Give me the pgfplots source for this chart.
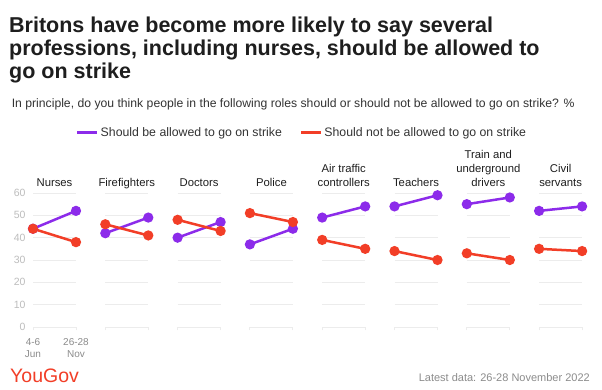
\documentclass[border=0pt]{standalone}
\usepackage{fontspec}
\setmainfont{Liberation Sans}
\usepackage{pgfplots}
\pgfplotsset{compat=1.18}
\definecolor{ypurple}{HTML}{8C2BEA}
\definecolor{yred}{HTML}{F23E27}
\definecolor{gridc}{HTML}{ECECEC}
\definecolor{tickc}{HTML}{BDBDBD}
\definecolor{footc}{HTML}{8C8C8C}
\definecolor{titlec}{HTML}{1E1E1E}
\definecolor{subc}{HTML}{333333}
\pgfplotsset{
 panel/.style={
  scale only axis, width=43pt, height=134pt,
  xmin=0, xmax=1, ymin=0, ymax=60,
  anchor=south west,
  clip=false,
  axis line style={draw=none},
  ytick={0,10,20,30,40,50,60}, yticklabels={},
  ymajorgrids, grid style={gridc, line width=0.9pt},
  xtick={0,1}, xticklabels={},
  xtick pos=left, ytick pos=left,
  tick align=outside,
  major tick length=3pt,
  x tick style={gridc, line width=0.9pt},
  y tick style={draw=none},
  title style={at={(0.5,1)}, anchor=south, yshift=0.5pt,
    font=\fontsize{11.3}{14}\selectfont, text=titlec, align=center,
    inner sep=0pt, text depth=0pt},
  /pgf/number format/assume math mode=true,
 },
 pline/.style={ypurple, line width=2.5pt, mark=*, mark size=3.8pt, mark options={solid, fill=ypurple, draw=ypurple}},
 rline/.style={yred, line width=2.5pt, mark=*, mark size=3.8pt, mark options={solid, fill=yred, draw=yred}},
}
\newcommand{\panel}[7]{%
\begin{axis}[panel, at={(#1pt,62pt)}, title={#2}, #7]
\addplot[pline] coordinates {(0,#3) (1,#4)};
\addplot[rline] coordinates {(0,#5) (1,#6)};
\end{axis}}
\begin{document}
\begin{tikzpicture}[x=1pt,y=1pt]
\path[use as bounding box, fill=white] (0,0) rectangle (602,389);
\node[anchor=base west, font=\fontsize{21.5}{22}\selectfont\bfseries, text=titlec, inner sep=0pt] at (9,356.5) {Britons have become more likely to say several};
\node[anchor=base west, font=\fontsize{21.5}{22}\selectfont\bfseries, text=titlec, inner sep=0pt] at (9,333.5) {professions, including nurses, should be allowed to};
\node[anchor=base west, font=\fontsize{21.5}{22}\selectfont\bfseries, text=titlec, inner sep=0pt] at (9,310.5) {go on strike};
\node[anchor=base west, font=\fontsize{12.2}{14}\selectfont, text=subc, inner sep=0pt] at (11.6,281.5) {In principle, do you think people in the following roles should or should not be allowed to go on strike? \%};

\panel{33}{Nurses}{44}{52}{44}{38}{
  yticklabels={0,10,20,30,40,50,60},
  yticklabel style={font=\fontsize{10.5}{12}\selectfont, text=tickc, xshift=-1pt},
  xticklabels={{4-6\\Jun},{26-28\\Nov}},
  xticklabel style={align=center, font=\fontsize{10}{12}\selectfont, text=footc, yshift=-5pt},
  legend style={at={(6.26,1.451)}, anchor=center, draw=none, fill=none,
    legend columns=2, font=\fontsize{12.3}{14}\selectfont, text=subc,
    /tikz/every even column/.append style={column sep=16pt}},
  legend image code/.code={\draw[#1, line width=2.5pt] (0pt,0pt) -- (20pt,0pt);},
  legend entries={Should be allowed to go on strike, Should not be allowed to go on strike}
}
\panel{105.3}{Firefighters}{42}{49}{46}{41}{}
\panel{177.6}{Doctors}{40}{47}{48}{43}{}
\panel{249.9}{Police}{37}{44}{51}{47}{}
\panel{322.2}{Air traffic\\controllers}{49}{54}{39}{35}{}
\panel{394.5}{Teachers}{54}{59}{34}{30}{}
\panel{466.8}{Train and\\underground\\drivers}{55}{58}{33}{30}{}
\panel{539.1}{Civil\\servants}{52}{54}{35}{34}{}

\node[anchor=base west, font=\fontsize{19.5}{20}\selectfont, text=yred, inner sep=0pt] at (10,7) {YouGov};
\node[anchor=base east, font=\fontsize{11}{12}\selectfont, text=footc, inner sep=0pt] at (590,8) {Latest data: 26-28 November 2022};
\end{tikzpicture}
\end{document}
